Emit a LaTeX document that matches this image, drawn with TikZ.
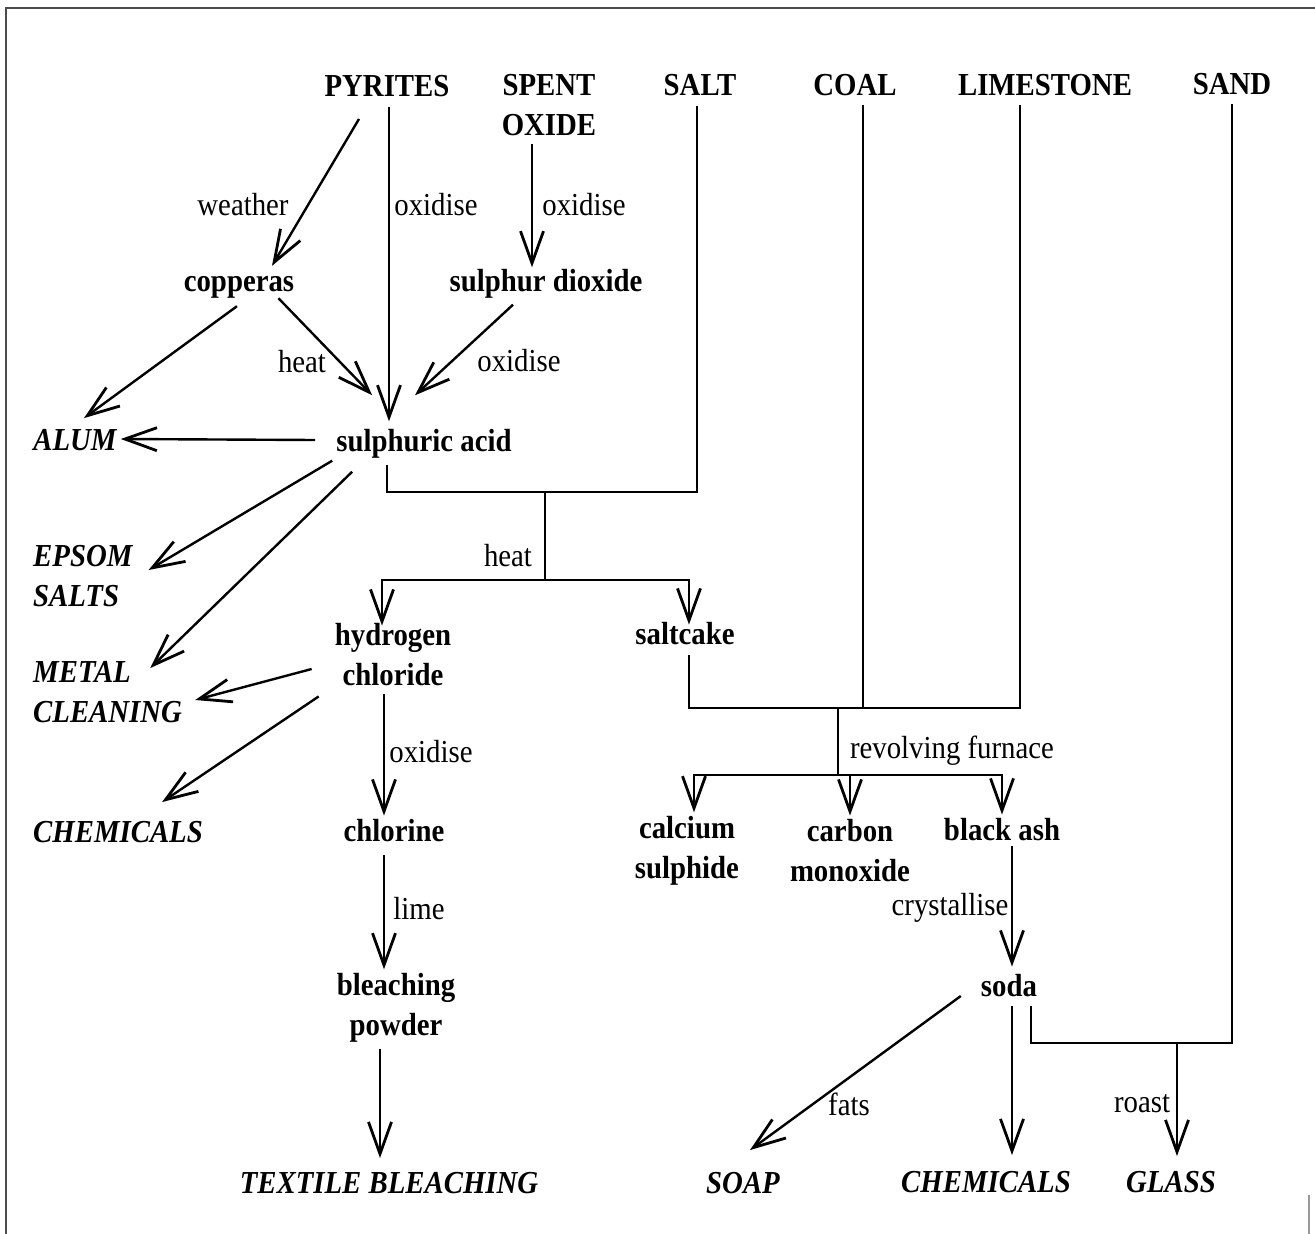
\documentclass[tikz,border=0pt]{standalone}
\usepackage{fontspec}
\setmainfont{Liberation Serif}[FakeStretch=0.9]
\usetikzlibrary{arrows.meta}
\newcommand\chartsize{\fontsize{32}{40}\selectfont}
\tikzset{
	item/.style={font=\chartsize\bfseries, inner sep=3pt, align=center},
	use/.style={font=\chartsize\bfseries\itshape, inner sep=3pt, align=left},
	note/.style={font=\chartsize, inner sep=0pt},
	flow/.style={-{Straight Barb[length=32pt, width=23pt, line width=2.8pt]}},
}
\begin{document}
\begin{tikzpicture}[x=1pt, y=-1pt, line width=2.4pt]
		\useasboundingbox (0,0) rectangle (1315,1234);
		\draw[line width=1.6pt, black!70] (6,1234) -- (6,8) -- (1315,8);
		\draw[line width=1.6pt, black!40] (1309,1195) -- (1309,1234);
		% raw materials
		\foreach \name/\x/\y/\txt in {py/387/86/PYRITES, sp/549/105/{SPENT\\OXIDE},
				sl/700/85/SALT, co/855/85/COAL, ls/1045/85/LIMESTONE, sd/1232/84/SAND}{
			\node[item] (\name) at (\x,\y) {\txt};
		}
		% products on the way
		\node[item] (cop) at (239,287) {copperas};
		\node[item] (so2) at (546,284) {sulphur dioxide};
		\node[item] (sa) at (424,444) {sulphuric acid};
		\node[item] (hcl) at (393,655) {hydrogen\\chloride};
		\node[item] (sc) at (685,634) {saltcake};
		\node[item] (chl) at (394,831) {chlorine};
		\node[item] (bp) at (396,1008) {bleaching\\powder};
		\node[item] (cs) at (687,851) {calcium\\sulphide};
		\node[item] (cm) at (850,851) {carbon\\monoxide};
		\node[item] (ba) at (1002,830) {black ash};
		\node[item] (soda) at (1009,986) {soda};
		% uses
		\node[use] (alum) at (75,440) {ALUM};
		\node[use, anchor=west] (epsom) at (29,576) {EPSOM\\SALTS};
		\node[use, anchor=west] (metal) at (29,692) {METAL\\CLEANING};
		\node[use, anchor=west] (chem) at (29,832) {CHEMICALS};
		\node[use] (tb) at (389,1183) {TEXTILE BLEACHING};
		\node[use] (soap) at (743,1183) {SOAP};
		\node[use] (chem2) at (986,1182) {CHEMICALS};
		\node[use] (gl) at (1171,1182) {GLASS};
		% process words
		\node[note] (n1) at (243,205) {weather};
		\node[note] (n2) at (436,205) {oxidise};
		\node[note] (n3) at (584,205) {oxidise};
		\node[note] (n4) at (302,362) {heat};
		\node[note] (n5) at (519,361) {oxidise};
		\node[note] (n6) at (508,556) {heat};
		\node[note] (n7) at (431,752) {oxidise};
		\node[note] (n8) at (952,751) {revolving furnace};
		\node[note] (n9) at (419,909) {lime};
		\node[note] (n10) at (950,908) {crystallise};
		\node[note] (n11) at (849,1104) {fats};
		\node[note] (n12) at (1142,1104) {roast};
		% junctions
		\coordinate (hj) at (545,492);
		\coordinate (hs) at (545,580);
		\coordinate (fj) at (838,708);
		\coordinate (fs) at (838,775);
		\coordinate (gj) at (1177,1043);
		% sulphuric acid
		\draw[flow] ([xshift=-28pt, yshift=-18pt]py.south) -- ([xshift=33pt, yshift=6pt]cop.north);
		\draw[flow] ([xshift=2pt, yshift=-6pt]py.south) -- ([xshift=-35pt, yshift=4pt]sa.north);
		\draw[flow] ([xshift=-17pt, yshift=-4pt]sp.south) -- ([xshift=-14pt, yshift=-2pt]so2.north);
		\draw[flow] ([xshift=-2pt, yshift=-4pt]cop.south) -- ([xshift=9pt, yshift=7pt]alum.north);
		\draw[flow] ([xshift=-20pt, yshift=4pt]cop.south east) -- ([xshift=40pt, yshift=30pt]sa.north west);
		\draw[flow] ([xshift=-33pt, yshift=-2pt]so2.south) -- ([xshift=-9pt, yshift=30pt]sa.north);
		\draw[flow] ([xshift=-17pt, yshift=4pt]sa.west) -- ([yshift=1pt]alum.east);
		\draw[flow] ([yshift=2pt]sa.south west) -- ([xshift=12pt, yshift=6pt]epsom.east);
		\draw[flow] ([xshift=20pt, yshift=-9pt]sa.south west) -- ([xshift=-36pt, yshift=-11pt]metal.north east);
		% salt and heat
		\draw ([xshift=-3pt, yshift=-6pt]sl.south) |- (hj) -| ([xshift=-37pt, yshift=-2pt]sa.south);
		\draw (hj) -- (hs);
		\draw[flow] (hs) -| ([xshift=-11pt, yshift=-6pt]hcl.north);
		\draw[flow] (hs) -| ([xshift=4pt, yshift=-6pt]sc.north);
		% hydrogen chloride
		\draw[flow] ([xshift=-19pt, yshift=-14pt]hcl.west) -- ([xshift=9pt, yshift=-8pt]metal.east);
		\draw[flow] ([xshift=-12pt, yshift=-6pt]hcl.south west) -- ([xshift=-45pt, yshift=15pt]chem.north east);
		\draw[flow] ([xshift=-9pt, yshift=-4pt]hcl.south) -- ([xshift=-10pt]chl.north);
		\draw[flow] ([xshift=-10pt, yshift=-9pt]chl.south) -- ([xshift=-12pt]bp.north);
		\draw[flow] ([xshift=-16pt, yshift=-2pt]bp.south) -- ([xshift=-9pt, yshift=10pt]tb.north);
		% furnace
		\draw ([xshift=4pt, yshift=-6pt]sc.south) |- (fj);
		\draw ([xshift=8pt, yshift=-5pt]co.south) |- (fj);
		\draw ([xshift=-25pt, yshift=-5pt]ls.south) |- (fj);
		\draw (fj) -- (fs);
		\draw[flow] (fs) -| ([xshift=7pt]cs.north);
		\draw[flow] (fs) -| (cm.north);
		\draw[flow] (fs) -| (ba.north);
		% soda
		\draw[flow] ([xshift=10pt, yshift=-1pt]ba.south) -- ([xshift=3pt, yshift=4pt]soda.north);
		\draw[flow] ([xshift=-16pt, yshift=-10pt]soda.west) -- ([xshift=7pt, yshift=18pt]soap.north);
		\draw[flow] ([xshift=3pt, yshift=-5pt]soda.south) -- ([xshift=26pt, yshift=12pt]chem2.north);
		\draw ([yshift=-5pt]sd.south) |- (gj);
		\draw ([xshift=22pt, yshift=-5pt]soda.south) |- (gj);
		\draw[flow] (gj) -- ([xshift=6pt, yshift=11pt]gl.north);
	\end{tikzpicture}
\end{document}
